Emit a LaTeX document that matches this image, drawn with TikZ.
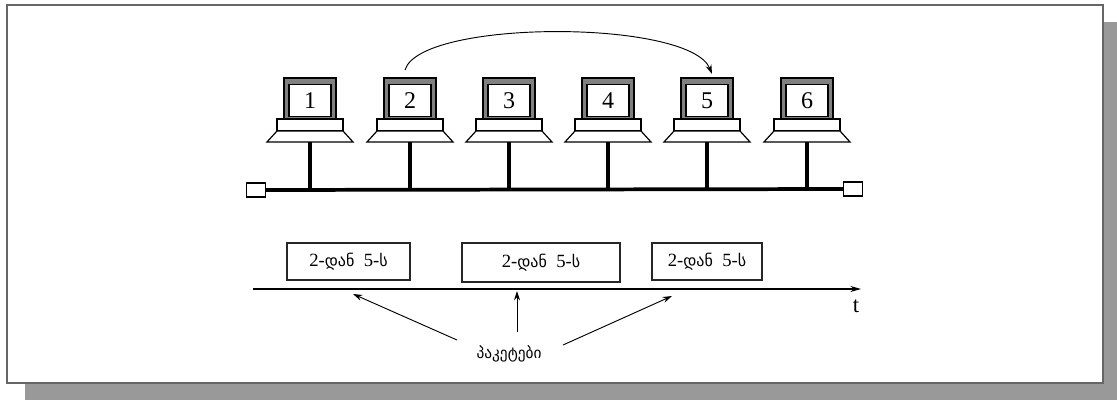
\documentclass[tikz,border=0pt]{standalone}
\usepackage{fontspec}
\setmainfont{Liberation Serif}
\newfontfamily\geo{DejaVu Sans}
\usetikzlibrary{arrows.meta}
\definecolor{framegray}{HTML}{666666}
\definecolor{shadowgray}{HTML}{999999}
\definecolor{bandgray}{HTML}{808080}
\tikzset{
  screen/.style={draw=black, line width=0.9pt, fill=white, minimum width=31.5pt, minimum height=24pt, inner sep=0pt, font=\fontsize{18}{18}\selectfont},
  shell/.style={draw=black, line width=0.9pt, fill=bandgray},
  basepart/.style={draw=black, line width=0.9pt, fill=white},
  stem/.style={line width=3pt},
  bus/.style={line width=2.8pt},
  term/.style={draw=black, line width=0.8pt, fill=white, minimum width=14pt, minimum height=10.5pt, inner sep=0pt},
  packet/.style={draw=black!85, line width=1.3pt, fill=white, inner sep=0pt, font=\fontsize{14}{14}\selectfont},
  thinarrow/.style={line width=0.7pt, -{Stealth[length=7pt,width=4.5pt]}},
  geotxt/.style={font=\geo\fontsize{11.5}{11.5}\selectfont}
}
\newcommand{\pkttext}{2-{\geo\fontsize{12}{12}\selectfont დან}\ \ 5-{\geo\fontsize{12}{12}\selectfont ს}}
\begin{document}
\begin{tikzpicture}[x=0.75pt,y=-0.75pt]
\useasboundingbox (0,0) rectangle (1117,400);
\fill[white] (0,0) rectangle (1117,400);
% shadow and frame
\fill[shadowgray] (25,383) rectangle (1117,400);
\fill[shadowgray] (1103,22) rectangle (1117,400);
\draw[draw=framegray, line width=1.6pt, fill=white] (7,5) rectangle (1103,383);
% computers
\foreach \i/\cx in {1/310,2/410,3/509,4/608,5/707,6/807}{
  \draw[shell] (\cx-26,78) rectangle (\cx+26,119);
  \node[screen] (m\i) at (\cx,100.5) {\i};
  \draw[basepart] (\cx-33,119) rectangle (\cx+33,131);
  \draw[basepart] (\cx-33,131) -- (\cx+33,131) -- (\cx+43,142) -- (\cx-43,142) -- cycle;
  \coordinate (b\i) at (\cx,142);
  \coordinate (t\i) at (\cx,188);
  \draw[stem] (b\i) -- (t\i);
}
% bus
\node[term] (tl) at (256,190) {};
\node[term] (tr) at (853,189) {};
\draw[bus] (tl.east) -- (tr.west);
% arc from 2 to 5
\coordinate (a2) at (405,70);
\coordinate (a5) at (712,74);
\draw[thinarrow] (a2) .. controls (420,19) and (690,19) .. (a5);
% packets
\node[packet, minimum width=92pt, minimum height=27.75pt] (p1) at (348.5,261.5) {\pkttext};
\node[packet, minimum width=118.5pt, minimum height=29.25pt] (p2) at (541,262.5) {\pkttext};
\node[packet, minimum width=82.5pt, minimum height=27.75pt] (p3) at (707,261.5) {\pkttext};
% time axis
\coordinate (ax0) at (253,289);
\coordinate (ax1) at (861,289);
\draw[line width=0.9pt, -{Stealth[length=8pt,width=4.5pt]}] (ax0) -- (ax1);
\node[font=\fontsize{17}{17}\selectfont] (tlab) at (856,306) {t};
% label and arrows
\node[geotxt] (lab) at (509,354) {პაკეტები};
\coordinate (s1) at (457,340);
\coordinate (e1) at (353,294);
\coordinate (s2) at (517,332);
\coordinate (e2) at (517,291);
\coordinate (s3) at (563,345);
\coordinate (e3) at (672,296);
\draw[thinarrow] (s1) -- (e1);
\draw[thinarrow] (s2) -- (e2);
\draw[thinarrow] (s3) -- (e3);
\end{tikzpicture}
\end{document}
